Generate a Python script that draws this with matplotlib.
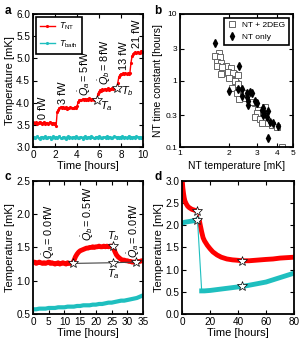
import numpy as np
import matplotlib
matplotlib.use("Agg")
import matplotlib.pyplot as plt

plt.rcParams['font.family'] = ['Liberation Sans', 'DejaVu Sans']
plt.rcParams['mathtext.fontset'] = 'custom'
plt.rcParams['mathtext.rm'] = 'Liberation Sans'
plt.rcParams['mathtext.it'] = 'Liberation Sans:italic'
plt.rcParams['xtick.direction'] = 'in'
plt.rcParams['ytick.direction'] = 'in'
plt.rcParams['xtick.top'] = True
plt.rcParams['ytick.right'] = True
plt.rcParams['axes.linewidth'] = 1.3

RED = '#ff0000'
CYAN = '#1fbfbf'

# ---- panel a: heating steps, 0.1 h sampling
a_time = np.linspace(0, 10, 101)
a_tnt = [3.57, 3.55, 3.54, 3.56, 3.53, 3.55, 3.57, 3.54, 3.52, 3.55, 3.56,
         3.53, 3.54, 3.55, 3.52, 3.56, 3.54, 3.53, 3.55, 3.52, 3.54,
         3.48, 3.80, 3.84, 3.88, 3.90, 3.87, 3.91, 3.89, 3.88, 3.90,
         3.86, 3.89, 3.88, 3.90, 3.87, 3.89, 3.88, 3.90, 3.89, 3.92,
         4.02, 4.05, 4.07, 4.06, 4.08, 4.07, 4.09, 4.06, 4.08, 4.07,
         4.10, 4.08, 4.06, 4.09, 4.07, 4.08, 4.06, 4.08,
         4.20, 4.25, 4.28, 4.27, 4.30, 4.29, 4.31, 4.28, 4.30, 4.32,
         4.29, 4.31, 4.30, 4.33, 4.30, 4.32, 4.31, 4.30,
         4.45, 4.58, 4.63, 4.65, 4.64, 4.66, 4.65, 4.67, 4.64, 4.66, 4.65, 4.67,
         4.90, 5.05, 5.10, 5.12, 5.14, 5.11, 5.15, 5.13, 5.12, 5.16, 5.14, 5.15]
a_bath = [3.21, 3.23, 3.20, 3.22, 3.24, 3.21, 3.19, 3.22, 3.23, 3.20,
          3.22, 3.24, 3.21, 3.20, 3.23, 3.22, 3.19, 3.21, 3.24, 3.22,
          3.20, 3.23, 3.21, 3.22, 3.25, 3.21, 3.20, 3.22, 3.23, 3.21,
          3.19, 3.22, 3.24, 3.21, 3.22, 3.20, 3.23, 3.22, 3.21, 3.24,
          3.22, 3.20, 3.21, 3.23, 3.22, 3.19, 3.22, 3.24, 3.21, 3.20,
          3.23, 3.22, 3.21, 3.25, 3.22, 3.20, 3.21, 3.23, 3.22, 3.21,
          3.24, 3.22, 3.20, 3.21, 3.23, 3.22, 3.20, 3.24, 3.21, 3.22,
          3.23, 3.21, 3.20, 3.22, 3.24, 3.22, 3.21, 3.23, 3.20, 3.22,
          3.21, 3.24, 3.22, 3.20, 3.23, 3.21, 3.22, 3.25, 3.21, 3.22,
          3.20, 3.23, 3.22, 3.21, 3.24, 3.22, 3.20, 3.23, 3.21, 3.22,
          3.22]
a_star_t = [5.8, 7.65]
a_star_T = [4.07, 4.33]
a_labels = ['0 fW', '3 fW', r'$\dot{Q}_a = 5\,$fW', r'$\dot{Q}_b = 8\,$fW', '13 fW', '21 fW']
a_label_t = [0.9, 2.75, 4.7, 6.5, 8.25, 9.45]
a_label_T = [3.64, 3.97, 4.14, 4.40, 4.73, 5.24]

# ---- panel b: time constant vs temperature
sq_T = [1.735, 1.639, 1.775, 1.694, 1.800, 1.694, 1.933, 1.827, 2.076, 1.981,
        2.158, 2.058, 2.180, 2.230, 1.811, 1.785, 1.989, 2.136, 2.294, 2.009,
        2.189, 2.294, 2.088, 2.243, 2.463, 2.327, 2.523, 2.910, 3.050, 3.275,
        2.776, 2.982, 2.910, 3.125, 3.355, 3.355, 3.437, 3.202, 3.690, 3.963, 4.256]
sq_tau = [2.62, 2.34, 2.23, 1.92, 1.81, 1.65, 1.65, 1.44, 1.53, 1.28,
          1.24, 1.08, 1.02, 0.91, 1.61, 1.24, 1.36, 1.31, 1.21, 1.08,
          0.99, 0.886, 0.764, 0.642, 0.642, 0.522, 0.540, 0.454, 0.360, 0.321,
          0.480, 0.321, 0.286, 0.261, 0.404, 0.328, 0.227, 0.227, 0.214, 0.202, 0.101]
dm_T = [1.653, 2.327, 2.009, 2.294, 2.428, 2.584, 2.776, 2.407, 2.584, 2.645,
        2.910, 2.982, 2.622, 3.202, 3.275, 2.710, 3.275, 3.322, 3.516, 3.437,
        3.602, 3.776, 4.020, 3.516]
dm_tau = [3.63, 1.65, 0.703, 0.738, 0.738, 0.656, 0.656, 0.585, 0.571, 0.497,
          0.497, 0.454, 0.428, 0.360, 0.303, 0.679, 0.382, 0.321, 0.352, 0.286,
          0.240, 0.227, 0.207, 0.135]

# ---- panel c: small heating, 0.5 h sampling
c_time = np.linspace(0, 35, 71)
c_tnt = [1.27, 1.28, 1.26, 1.27, 1.28, 1.27, 1.26, 1.27, 1.26, 1.27, 1.28, 1.26, 1.27,
         1.26, 1.25, 1.26, 1.27, 1.25, 1.26, 1.27, 1.26, 1.25, 1.27, 1.26, 1.26, 1.26,
         1.30, 1.36, 1.40, 1.43, 1.45, 1.46, 1.47, 1.48, 1.49, 1.49, 1.50, 1.50, 1.51,
         1.50, 1.51, 1.51, 1.52, 1.51, 1.51, 1.52, 1.51, 1.52, 1.51, 1.52, 1.52,
         1.50, 1.44, 1.39, 1.36, 1.34, 1.32, 1.31, 1.31, 1.30, 1.30, 1.29, 1.29,
         1.28, 1.28, 1.28, 1.28, 1.29, 1.29, 1.30, 1.30]
c_btime = np.linspace(0, 35, 36)
c_bath = [0.57, 0.57, 0.58, 0.58, 0.58, 0.59, 0.59, 0.59, 0.60, 0.60, 0.60, 0.61,
          0.61, 0.61, 0.62, 0.62, 0.63, 0.63, 0.63, 0.64, 0.64, 0.65, 0.65, 0.66,
          0.67, 0.67, 0.68, 0.69, 0.70, 0.70, 0.71, 0.72, 0.73, 0.74, 0.76, 0.78]
c_star_t = [12.6, 25.3, 25.3, 32.6]
c_star_T = [1.26, 1.52, 1.27, 1.28]
c_labels = [r'$\dot{Q}_a = 0.0\,$fW', r'$\dot{Q}_b = 0.5\,$fW', r'$\dot{Q}_a = 0.0\,$fW']
c_label_t = [5.0, 17.5, 32.0]
c_label_T = [1.33, 1.60, 1.34]

# ---- panel d: cooldown
d_t1 = [0, 0.5, 1, 1.5, 2, 3, 4, 5, 6, 7, 8, 9, 10, 11]
d_nt1 = [3.05, 2.85, 2.72, 2.62, 2.55, 2.48, 2.43, 2.40, 2.38, 2.36, 2.35, 2.34, 2.33, 2.32]
d_t2 = [12.5, 13, 14, 15, 16, 18, 20, 22, 25, 28, 32, 36, 40, 43, 48, 52, 56, 60, 65, 70, 75, 80]
d_nt2 = [2.08, 2.00, 1.85, 1.72, 1.65, 1.55, 1.47, 1.40, 1.33, 1.28, 1.24, 1.22, 1.21, 1.20,
         1.20, 1.21, 1.22, 1.23, 1.24, 1.26, 1.27, 1.28]
d_bt1 = [0, 2, 4, 6, 8, 10, 11]
d_bath1 = [2.05, 2.07, 2.08, 2.09, 2.10, 2.12, 2.13]
d_bt2 = [14, 16, 20, 25, 30, 35, 40, 43, 50, 55, 60, 65, 70, 75, 80]
d_bath2 = [0.52, 0.52, 0.53, 0.55, 0.57, 0.59, 0.61, 0.62, 0.66, 0.69, 0.72, 0.77, 0.82, 0.87, 0.92]
d_star_t = [11, 11, 43, 43]
d_star_T = [2.33, 2.13, 1.20, 0.62]

fig = plt.figure(figsize=(3.0, 3.5), dpi=100)
axa = fig.add_axes([0.11, 0.58, 0.367, 0.38])
axb = fig.add_axes([0.60, 0.58, 0.377, 0.38])
axc = fig.add_axes([0.11, 0.103, 0.367, 0.38])
axd = fig.add_axes([0.607, 0.103, 0.373, 0.38])

tick_fs = 7.2
lab_fs = 8
note_fs = 7.8
star_kw = dict(marker='*', ms=7, mfc='white', mec='black', mew=0.5, ls='none', zorder=5)

# a
axa.plot(a_time, a_tnt, '.-', color=RED, lw=1, ms=2.5, label=r'$T_{\rm NT}$')
axa.plot(a_time, a_bath, '.-', color=CYAN, lw=1, ms=2.5, label=r'$T_{\rm bath}$')
axa.plot(a_star_t, a_star_T, **star_kw)
for s, t, T in zip(a_labels, a_label_t, a_label_T):
    axa.text(t, T, s, rotation=90, ha='center', va='bottom', fontsize=note_fs)
axa.text(6.05, 3.92, r'$T_a$', fontsize=note_fs, ha='left', va='center')
axa.text(7.95, 4.27, r'$T_b$', fontsize=note_fs, ha='left', va='center')
axa.set_xlim(0, 10)
axa.set_ylim(3.0, 6.0)
axa.set_xticks([0, 2, 4, 6, 8, 10])
axa.set_yticks([3.0, 3.5, 4.0, 4.5, 5.0, 5.5, 6.0])
axa.set_yticklabels(['3.0', '3.5', '4.0', '4.5', '5.0', '5.5', '6.0'])
axa.set_xlabel('Time [hours]', fontsize=lab_fs, labelpad=1)
axa.set_ylabel('Temperature [mK]', fontsize=lab_fs, labelpad=1)
leg = axa.legend(loc='upper left', fontsize=6.3, handlelength=1.8, handletextpad=0.4,
                 borderpad=0.45, labelspacing=0.7, borderaxespad=0.3,
                 fancybox=False, edgecolor='black', framealpha=1)
leg.get_frame().set_linewidth(1.2)

# b
axb.plot(sq_T, sq_tau, 's', ms=4, mfc='white', mec='#666666', mew=0.7, ls='none', label='NT + 2DEG')
axb.plot(dm_T, dm_tau, 'd', ms=4, color='black', ls='none', label='NT only')
axb.set_xscale('log')
axb.set_yscale('log')
axb.set_xlim(1, 5)
axb.set_ylim(0.1, 10)
axb.set_xticks([1, 2, 3, 4, 5])
axb.set_xticklabels(['1', '2', '3', '4', '5'])
axb.set_yticks([0.1, 0.3, 1, 3, 10])
axb.set_yticklabels(['0.1', '0.3', '1', '3', '10'])
axb.minorticks_off()
axb.tick_params(labelsize=6)
axb.set_xlabel('NT temperature [mK]', fontsize=7.5, labelpad=3)
axb.set_ylabel('NT time constant [hours]', fontsize=7.5, labelpad=2)
legb = axb.legend(loc='upper right', fontsize=6, handlelength=1.0, borderpad=0.4,
                  fancybox=False, edgecolor='black', framealpha=1)
legb.get_frame().set_linewidth(1.2)

# c
axc.plot(c_time, c_tnt, '-', color=RED, lw=3.5, solid_capstyle='butt')
axc.plot(c_btime, c_bath, '-', color=CYAN, lw=3)
axc.plot([c_star_t[0], c_star_t[2], c_star_t[3]], [c_star_T[0], c_star_T[2], c_star_T[3]],
         '-', color='#444444', lw=0.8, zorder=4)
axc.plot(c_star_t, c_star_T, **star_kw)
for s, t, T in zip(c_labels, c_label_t, c_label_T):
    axc.text(t, T, s, rotation=90, ha='center', va='bottom', fontsize=note_fs)
axc.text(25.5, 1.56, r'$T_b$', fontsize=note_fs, ha='center', va='bottom')
axc.text(25.5, 1.21, r'$T_a$', fontsize=note_fs, ha='center', va='top')
axc.set_xlim(0, 35)
axc.set_ylim(0.5, 2.5)
axc.set_xticks([0, 5, 10, 15, 20, 25, 30, 35])
axc.set_yticks([0.5, 1.0, 1.5, 2.0, 2.5])
axc.set_yticklabels(['0.5', '1.0', '1.5', '2.0', '2.5'])
axc.set_xlabel('Time [hours]', fontsize=lab_fs, labelpad=1)
axc.set_ylabel('Temperature [mK]', fontsize=lab_fs, labelpad=1)

# d
axd.plot(d_t1, d_nt1, '-', color=RED, lw=3.5)
axd.plot([d_t1[-1], d_t2[0]], [d_nt1[-1], d_nt2[0]], '-', color=RED, lw=0.8)
axd.plot(d_t2, d_nt2, '-', color=RED, lw=3.5)
axd.plot(d_bt1, d_bath1, '-', color=CYAN, lw=3.5)
axd.plot([d_bt1[-1], d_bt2[0]], [d_bath1[-1], d_bath2[0]], '-', color=CYAN, lw=0.8)
axd.plot(d_bt2, d_bath2, '-', color=CYAN, lw=3.5)
axd.plot(d_star_t, d_star_T, **star_kw)
axd.set_xlim(0, 80)
axd.set_ylim(0, 3.0)
axd.set_xticks([0, 20, 40, 60, 80])
axd.set_yticks([0.0, 0.5, 1.0, 1.5, 2.0, 2.5, 3.0])
axd.set_yticklabels(['0.0', '0.5', '1.0', '1.5', '2.0', '2.5', '3.0'])
axd.set_xlabel('Time [hours]', fontsize=lab_fs, labelpad=1)
axd.set_ylabel('Temperature [mK]', fontsize=lab_fs, labelpad=1)

for ax in (axa, axc, axd):
    ax.tick_params(labelsize=tick_fs, length=3, width=0.8, pad=2)
axb.tick_params(length=3, width=0.8, pad=2)

for lab, x, y in [('a', 0.015, 0.985), ('b', 0.515, 0.985), ('c', 0.015, 0.51), ('d', 0.515, 0.51)]:
    fig.text(x, y, lab, fontsize=8.5, fontweight='bold', ha='left', va='top')

fig.savefig('out.png', dpi=100)
